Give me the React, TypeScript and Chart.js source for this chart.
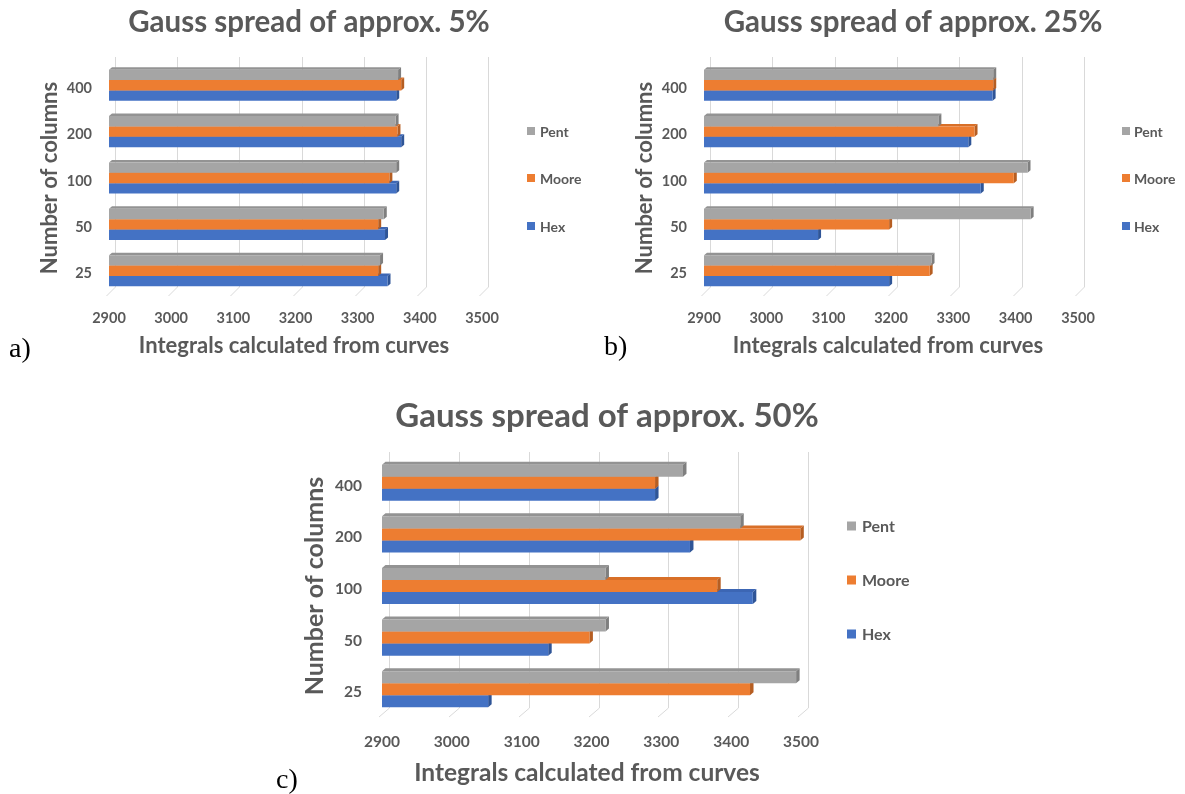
import React, { useEffect, useRef } from 'react';
import { Chart, registerables } from 'chart.js';

Chart.register(...registerables);

// ---------- data ----------
const categories = ['400', '200', '100', '50', '25'];
const seriesNames = ['Pent', 'Moore', 'Hex'];
const xMin = 2900;
const xMax = 3500;
const xStep = 100;

// a) Gauss spread of approx. 5%
const pentA = [3365, 3361, 3362, 3342, 3336];
const mooreA = [3370, 3364, 3351, 3333, 3333];
const hexA = [3362, 3370, 3362, 3344, 3348];

// b) Gauss spread of approx. 25%
const pentB = [3364, 3276, 3419, 3424, 3265];
const mooreB = [3364, 3334, 3397, 3197, 3262];
const hexB = [3363, 3324, 3344, 3083, 3197];

// c) Gauss spread of approx. 50%
const pentC = [3331, 3413, 3220, 3220, 3493];
const mooreC = [3291, 3499, 3380, 3197, 3427];
const hexC = [3291, 3341, 3431, 3138, 3052];

const titles = [
  'Gauss spread of approx. 5%',
  'Gauss spread of approx. 25%',
  'Gauss spread of approx. 50%',
];
const xTitle = 'Integrals calculated from curves';
const yTitle = 'Number of columns';
const panelLabels = ['a)', 'b)', 'c)'];

// ---------- styles ----------
const frontColors = ['#A5A5A5', '#ED7D31', '#4472C4'];
const sideColors = ['#7F7F7F', '#B65E22', '#2F5597'];
const topColors = ['#939393', '#D86F28', '#3C66B4'];
const textColor = '#595959';
const gridColor = '#D9D9D9';
const FONT = 'Lato, "Open Sans", sans-serif';

type Layout = {
  canvas: { left: number; top: number; w: number; h: number };
  area: { left: number; right: number; top: number; bottom: number };
  title: { x: number; y: number; size: number };
  xTitle: { x: number; y: number; size: number };
  yTitle: { x: number; size: number };
  legend: { x: number; ys: number[]; box: number; size: number; gap: number };
  tick: { size: number; xPad: number; yPad: number; yShift: number };
  catPct: number;
  depth: { dx: number; dy: number };
  label: { left: number; top: number; size: number };
};

const layouts: Layout[] = [
  {
    canvas: { left: 0, top: 0, w: 595, h: 390 },
    area: { left: 109, right: 482, top: 62, bottom: 294 },
    title: { x: 309, y: 22, size: 29.5 },
    xTitle: { x: 294, y: 346, size: 22 },
    yTitle: { x: 50, size: 22 },
    legend: { x: 527, ys: [131, 178, 226], box: 8, size: 14, gap: 13 },
    tick: { size: 14.5, xPad: 16, yPad: 17, yShift: 3 },
    catPct: 0.67,
    depth: { dx: 3, dy: 2.5 },
    label: { left: 9, top: 334, size: 28 },
  },
  {
    canvas: { left: 595, top: 0, w: 590, h: 390 },
    area: { left: 109, right: 483, top: 62, bottom: 294 },
    title: { x: 318, y: 22, size: 29.5 },
    xTitle: { x: 293, y: 346, size: 22 },
    yTitle: { x: 50, size: 22 },
    legend: { x: 527, ys: [131, 178, 226], box: 8, size: 14, gap: 12 },
    tick: { size: 14.5, xPad: 16, yPad: 17, yShift: 3 },
    catPct: 0.67,
    depth: { dx: 3, dy: 2.5 },
    label: { left: 604, top: 332, size: 28 },
  },
  {
    canvas: { left: 270, top: 385, w: 660, h: 409 },
    area: { left: 112, right: 531, top: 72, bottom: 330 },
    title: { x: 337, y: 31, size: 33 },
    xTitle: { x: 317, y: 388, size: 24.5 },
    yTitle: { x: 45, size: 25 },
    legend: { x: 577, ys: [141, 195, 249], box: 9, size: 16, gap: 15 },
    tick: { size: 15.5, xPad: 18, yPad: 20, yShift: 3 },
    catPct: 0.7,
    depth: { dx: 3.5, dy: 3 },
    label: { left: 276, top: 765, size: 28 },
  },
];

const panelData = [
  [pentA, mooreA, hexA],
  [pentB, mooreB, hexB],
  [pentC, mooreC, hexC],
];

function makeDeco(L: Layout, title: string) {
  return {
    id: 'deco',
    beforeDatasetsDraw(chart: any) {
      const ctx = chart.ctx;
      const xs = chart.scales.x;
      const area = chart.chartArea;
      const { dx, dy } = L.depth;
      // back-wall gridlines with a slanted floor edge
      ctx.save();
      ctx.strokeStyle = gridColor;
      ctx.lineWidth = 1;
      for (let v = xMin; v <= xMax; v += xStep) {
        const px = Math.round(xs.getPixelForValue(v)) + 0.5;
        ctx.beginPath();
        ctx.moveTo(px + 2 * dx, area.top - 5);
        ctx.lineTo(px + 2 * dx, area.bottom - 7);
        ctx.lineTo(px - dx, area.bottom + 2);
        ctx.stroke();
      }
      // 3D faces of bars (drawn first, fronts painted over them)
      for (let d = chart.data.datasets.length - 1; d >= 0; d--) {
        const meta = chart.getDatasetMeta(d);
        meta.data.forEach((bar: any) => {
          const h = bar.height;
          const t = bar.y - h / 2;
          const b = bar.y + h / 2;
          const x = bar.x;
          const base = Math.max(bar.base, area.left);
          ctx.fillStyle = topColors[d];
          ctx.beginPath();
          ctx.moveTo(base, t);
          ctx.lineTo(base + dx, t - dy);
          ctx.lineTo(x + dx, t - dy);
          ctx.lineTo(x, t);
          ctx.closePath();
          ctx.fill();
          ctx.fillStyle = sideColors[d];
          ctx.beginPath();
          ctx.moveTo(x, t);
          ctx.lineTo(x + dx, t - dy);
          ctx.lineTo(x + dx, b - dy);
          ctx.lineTo(x, b);
          ctx.closePath();
          ctx.fill();
        });
      }
      ctx.restore();
    },
    afterDraw(chart: any) {
      const ctx = chart.ctx;
      const area = chart.chartArea;
      ctx.save();
      ctx.fillStyle = textColor;
      ctx.textBaseline = 'middle';
      // title
      ctx.textAlign = 'center';
      ctx.font = `bold ${L.title.size}px ${FONT}`;
      ctx.fillText(title, L.title.x, L.title.y);
      // x title
      ctx.font = `bold ${L.xTitle.size}px ${FONT}`;
      ctx.fillText(xTitle, L.xTitle.x, L.xTitle.y);
      // y title
      ctx.save();
      ctx.translate(L.yTitle.x, (area.top + area.bottom) / 2);
      ctx.rotate(-Math.PI / 2);
      ctx.font = `bold ${L.yTitle.size}px ${FONT}`;
      ctx.fillText(yTitle, 0, 0);
      ctx.restore();
      // legend
      ctx.textAlign = 'left';
      ctx.font = `bold ${L.legend.size}px ${FONT}`;
      seriesNames.forEach((name, i) => {
        const y = L.legend.ys[i];
        ctx.fillStyle = frontColors[i];
        ctx.fillRect(L.legend.x, y - L.legend.box / 2, L.legend.box, L.legend.box);
        ctx.fillStyle = textColor;
        ctx.fillText(name, L.legend.x + L.legend.gap, y + 1);
      });
      ctx.restore();
    },
  };
}

export default function App() {
  const refs = [useRef<HTMLCanvasElement>(null), useRef<HTMLCanvasElement>(null), useRef<HTMLCanvasElement>(null)];

  useEffect(() => {
    const charts: Chart[] = [];
    layouts.forEach((L, idx) => {
      const canvas = refs[idx].current;
      if (!canvas) return;
      const series = panelData[idx];
      const chart = new Chart(canvas, {
        type: 'bar',
        data: {
          labels: categories,
          datasets: seriesNames.map((name, i) => ({
            label: name,
            data: series[i],
            backgroundColor: frontColors[i],
            borderWidth: 0,
            categoryPercentage: L.catPct,
            barPercentage: 1,
          })),
        },
        options: {
          animation: false,
          responsive: false,
          maintainAspectRatio: false,
          devicePixelRatio: 1,
          indexAxis: 'y',
          layout: {
            padding: { left: 0, right: L.canvas.w - L.area.right, top: L.area.top, bottom: 0 },
          },
          plugins: {
            legend: { display: false },
            title: { display: false },
            tooltip: { enabled: false },
          },
          scales: {
            x: {
              type: 'linear',
              min: xMin,
              max: xMax,
              grid: { display: false, drawTicks: false },
              border: { display: false },
              ticks: {
                stepSize: xStep,
                padding: L.tick.xPad,
                color: textColor,
                font: { family: FONT, size: L.tick.size, weight: 'bold' },
                callback: (v: any) => String(v),
              },
              afterFit: (s: any) => {
                s.height = L.canvas.h - L.area.bottom;
              },
            },
            y: {
              type: 'category',
              grid: { display: false, drawTicks: false },
              border: { display: false },
              ticks: {
                padding: L.tick.yPad,
                labelOffset: L.tick.yShift,
                color: textColor,
                font: { family: FONT, size: L.tick.size, weight: 'bold' },
              },
              afterFit: (s: any) => {
                s.width = L.area.left;
              },
            },
          },
        },
        plugins: [makeDeco(L, titles[idx])],
      } as any);
      charts.push(chart);
    });
    return () => charts.forEach((c) => c.destroy());
  }, []);

  return (
    <div
      style={{
        position: 'fixed',
        left: 0,
        top: 0,
        width: 1185,
        height: 794,
        background: '#ffffff',
        overflow: 'hidden',
      }}
    >
      {layouts.map((L, idx) => (
        <canvas
          key={idx}
          ref={refs[idx]}
          width={L.canvas.w}
          height={L.canvas.h}
          style={{
            position: 'absolute',
            left: L.canvas.left,
            top: L.canvas.top,
            width: L.canvas.w,
            height: L.canvas.h,
          }}
        />
      ))}
      {layouts.map((L, idx) => (
        <div
          key={'lbl' + idx}
          style={{
            position: 'absolute',
            left: L.label.left,
            top: L.label.top,
            fontFamily: '"Liberation Serif", "Times New Roman", serif',
            fontSize: L.label.size,
            lineHeight: 1,
            color: '#000000',
          }}
        >
          {panelLabels[idx]}
        </div>
      ))}
    </div>
  );
}
